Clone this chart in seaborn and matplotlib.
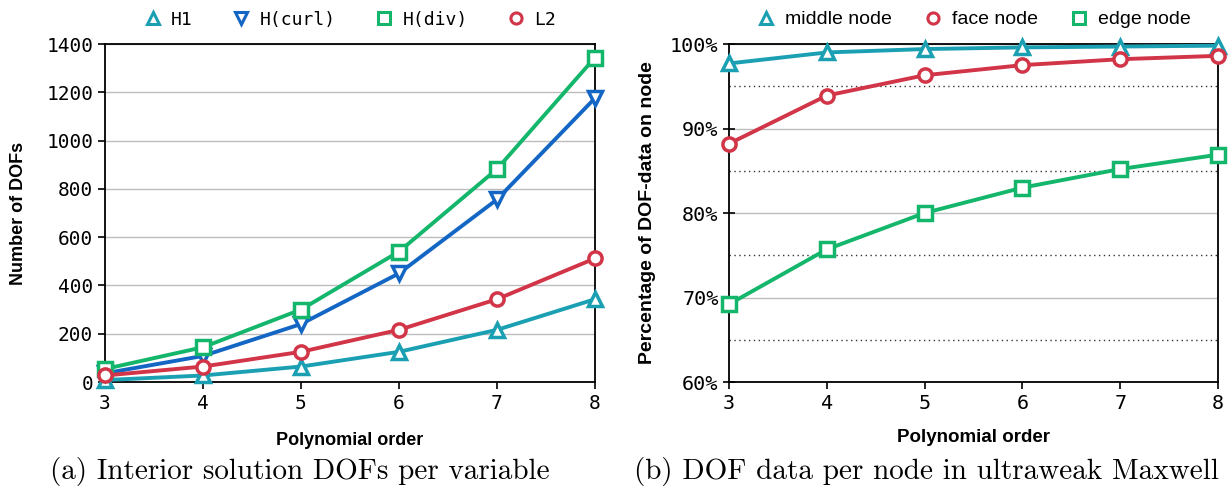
import matplotlib
matplotlib.use("Agg")
import matplotlib.pyplot as plt
from matplotlib.lines import Line2D
from matplotlib.ticker import FuncFormatter, MultipleLocator
import seaborn as sns
import pandas as pd

# Polynomial orders
orders = [3, 4, 5, 6, 7, 8]

# (a) interior solution DOFs per variable
h1_dofs = [8, 27, 64, 125, 216, 343]
hcurl_dofs = [36, 108, 240, 450, 756, 1176]
hdiv_dofs = [54, 144, 300, 540, 882, 1344]
l2_dofs = [27, 64, 125, 216, 343, 512]

# (b) percentage of DOF data on each node type
middle_pct = [97.7, 99.0, 99.4, 99.6, 99.7, 99.8]
face_pct = [88.2, 93.9, 96.3, 97.5, 98.2, 98.6]
edge_pct = [69.2, 75.7, 80.0, 83.0, 85.2, 86.9]

left_labels = ["H1", "H(curl)", "H(div)", "L2"]
right_labels = ["middle node", "face node", "edge node"]

TEAL = "#1aa0b2"
BLUE = "#1466c4"
GREEN = "#13b66b"
RED = "#d13547"

sns.set_style("ticks")
plt.rcParams["font.family"] = ["DejaVu Sans Mono"]
plt.rcParams["text.color"] = "black"
plt.rcParams["axes.labelcolor"] = "black"

SANS = "Liberation Sans"
MONO = "DejaVu Sans Mono"

fig = plt.figure(figsize=(12.28, 4.98), dpi=100)
ax1 = fig.add_axes([105 / 1228, 1 - 382 / 498, 490 / 1228, 338 / 498])
ax2 = fig.add_axes([729 / 1228, 1 - 382 / 498, 489 / 1228, 338 / 498])

LW = 2.8
MS = 9.5
MEW = 2.5


def draw(ax, values, color, marker, label):
    df = pd.DataFrame({"order": orders, "value": values})
    sns.lineplot(data=df, x="order", y="value", ax=ax, color=color, lw=LW,
                 marker=marker, markersize=MS, markerfacecolor="white",
                 markeredgecolor=color, markeredgewidth=MEW, label=label,
                 clip_on=False, zorder=5)


# ---- (a) ----
draw(ax1, h1_dofs, TEAL, "^", left_labels[0])
draw(ax1, hcurl_dofs, BLUE, "v", left_labels[1])
draw(ax1, hdiv_dofs, GREEN, "s", left_labels[2])
draw(ax1, l2_dofs, RED, "o", left_labels[3])

ax1.set_xlim(3, 8)
ax1.set_ylim(0, 1400)
ax1.yaxis.set_major_locator(MultipleLocator(200))
ax1.set_xticks(orders)
ax1.grid(axis="y", color="#bdbdbd", lw=1.0)
ax1.tick_params(direction="out", length=5, width=1.2, labelsize=14, colors="black")
for lab in ax1.get_xticklabels() + ax1.get_yticklabels():
    lab.set_family(MONO)
ax1.set_xlabel("Polynomial order", family=SANS, fontweight="bold", fontsize=13, labelpad=14)
ax1.set_ylabel("Number of DOFs", family=SANS, fontweight="bold", fontsize=13, labelpad=14)

# ---- (b) ----
draw(ax2, middle_pct, TEAL, "^", right_labels[0])
draw(ax2, face_pct, RED, "o", right_labels[1])
draw(ax2, edge_pct, GREEN, "s", right_labels[2])

ax2.set_xlim(3, 8)
ax2.set_ylim(60, 100)
ax2.yaxis.set_major_locator(MultipleLocator(10))
ax2.yaxis.set_major_formatter(FuncFormatter(lambda v, p: f"{v:.0f}%"))
ax2.set_xticks(orders)
ax2.grid(axis="y", which="major", color="#bdbdbd", lw=1.0)
for yv in [65, 75, 85, 95]:
    ax2.axhline(yv, color="#333333", lw=1.0, ls=(0, (1, 2.5)), zorder=1)
ax2.tick_params(axis="y", direction="inout", length=8, width=1.2, labelsize=14.5, colors="black")
ax2.tick_params(axis="x", direction="out", length=5, width=1.2, labelsize=14.5, colors="black")
for lab in ax2.get_xticklabels() + ax2.get_yticklabels():
    lab.set_family(MONO)
ax2.set_xlabel("Polynomial order", family=SANS, fontweight="bold", fontsize=13.5, labelpad=12)
ax2.set_ylabel("Percentage of DOF-data on node", family=SANS, fontweight="bold", fontsize=14, labelpad=10)

for ax in (ax1, ax2):
    for s in ax.spines.values():
        s.set_visible(True)
        s.set_color("black")
        s.set_linewidth(1.3)
    if ax.legend_:
        ax.legend_.remove()

# legends with marker-only handles
h_left = [Line2D([], [], ls="none", marker=m, ms=8, mfc="white", mec=c, mew=2.2)
          for m, c in zip(["^", "v", "s", "o"], [TEAL, BLUE, GREEN, RED])]
ax1.legend(h_left, left_labels, ncol=4, loc="lower center",
           bbox_to_anchor=(0.5, 1.0), frameon=False, handlelength=1.0,
           handletextpad=0.5, columnspacing=2.2, borderaxespad=0.45,
           prop={"family": MONO, "size": 13})

h_right = [Line2D([], [], ls="none", marker=m, ms=8, mfc="white", mec=c, mew=2.2)
           for m, c in zip(["^", "o", "s"], [TEAL, RED, GREEN])]
ax2.legend(h_right, right_labels, ncol=3, loc="lower center",
           bbox_to_anchor=(0.5, 1.0), frameon=False, handlelength=1.0,
           handletextpad=0.5, columnspacing=1.6, borderaxespad=0.4,
           prop={"family": SANS, "size": 14})

# captions
fig.text(300 / 1228, 1 - 471 / 498, "(a) Interior solution DOFs per variable",
         ha="center", va="center", family="cmr10", fontsize=21)
fig.text(927 / 1228, 1 - 471 / 498, "(b) DOF data per node in ultraweak Maxwell",
         ha="center", va="center", family="cmr10", fontsize=21)

fig.savefig("out.png", dpi=100)
